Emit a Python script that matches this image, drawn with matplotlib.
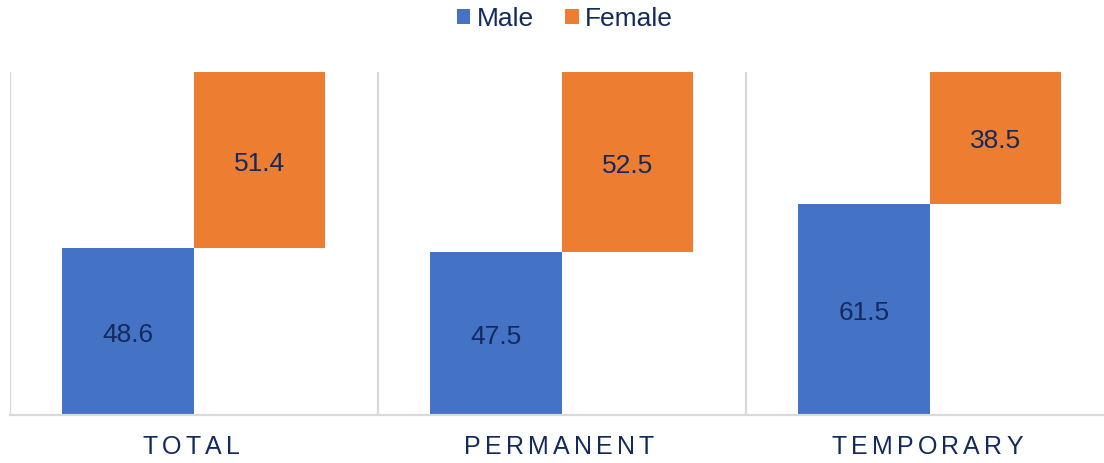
import matplotlib
matplotlib.use("Agg")
import matplotlib.pyplot as plt
import matplotlib.transforms as mtransforms
from matplotlib.font_manager import FontProperties
from matplotlib.textpath import TextToPath
import numpy as np

categories = ["TOTAL", "PERMANENT", "TEMPORARY"]
male = [48.6, 47.5, 61.5]
female = [51.4, 52.5, 38.5]

BLUE = "#4472C4"
ORANGE = "#ED7D31"
NAVY = "#132A5E"
GRID = "#D9D9D9"
FONT = "Liberation Sans"

plt.rcParams["font.family"] = [FONT, "DejaVu Sans"]

fig = plt.figure(figsize=(11.04, 4.63), dpi=100)
ax = fig.add_axes([9.5 / 1104, 48 / 463, 1104.5 / 1104, 343 / 463])

x = np.arange(len(categories))
w = 0.357
ax.bar(x - w / 2, male, width=w, color=BLUE, label="Male", zorder=2)
ax.bar(x + w / 2, female, width=w, bottom=male, color=ORANGE, label="Female", zorder=2)

# value labels, nudged slightly below the bar centre
nudge = mtransforms.ScaledTranslation(0, -2.5 / 72, fig.dpi_scale_trans)
for xi, m, f in zip(x, male, female):
    ax.text(xi - w / 2, m / 2, f"{m}", ha="center", va="center",
            fontsize=19, color=NAVY, zorder=3, transform=ax.transData + nudge)
    ax.text(xi + w / 2, m + f / 2, f"{f}", ha="center", va="center",
            fontsize=19, color=NAVY, zorder=3, transform=ax.transData + nudge)

ax.set_xlim(-0.5, len(categories) - 0.5)
ax.set_ylim(0, 100)
for sep in np.arange(-0.5, len(categories), 1.0):
    ax.axvline(sep, color=GRID, lw=1.6, zorder=1)

for s in ["top", "right", "left"]:
    ax.spines[s].set_visible(False)
ax.spines["bottom"].set_color(GRID)
ax.spines["bottom"].set_linewidth(1.6)
ax.set_yticks([])
ax.set_xticks([])

# letter-spaced category labels
prop = FontProperties(family=FONT, size=18)
t2p = TextToPath()
spacing_pt = 3.0
trans_base = ax.get_xaxis_transform()
for xi, label in zip(x, categories):
    widths = [t2p.get_text_width_height_descent(ch, prop, ismath=False)[0] for ch in label]
    total = sum(widths) + spacing_pt * (len(label) - 1)
    pos = -total / 2 - 2
    for ch, cw in zip(label, widths):
        tr = trans_base + mtransforms.ScaledTranslation(pos / 72, 0, fig.dpi_scale_trans)
        ax.text(xi, -0.093, ch, transform=tr, ha="left", va="center",
                fontproperties=prop, color=NAVY, clip_on=False)
        pos += cw + spacing_pt

leg = fig.legend(loc="center", bbox_to_anchor=(565 / 1104, 1 - 19 / 463), ncol=2,
                 frameon=False, fontsize=19, handlelength=0.5, handleheight=0.5,
                 handletextpad=0.25, columnspacing=1.2, borderaxespad=0)
for t in leg.get_texts():
    t.set_color(NAVY)

fig.savefig("out.png", dpi=100)
